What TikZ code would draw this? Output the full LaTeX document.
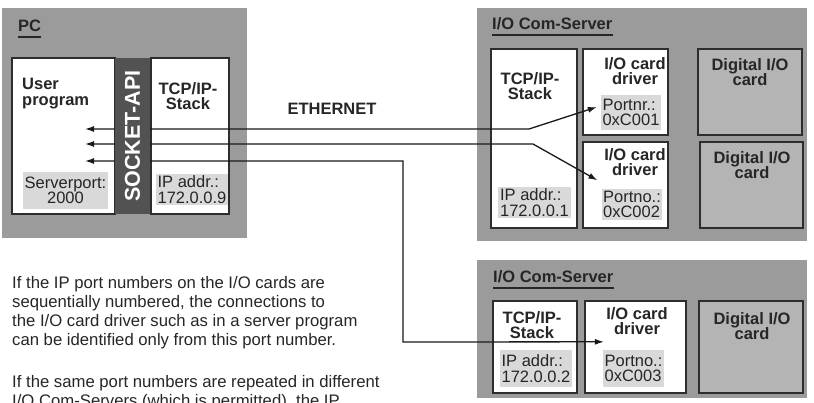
\documentclass[tikz,border=0pt]{standalone}
\usepackage{fontspec}
\setmainfont{Liberation Sans}
\usepackage{xcolor}
\usepackage{tikz}
\usetikzlibrary{arrows.meta, positioning, calc}
\definecolor{bggray}{RGB}{155,155,155}
\definecolor{cardgray}{RGB}{180,180,180}
\definecolor{addrgray}{RGB}{217,217,217}
\definecolor{sockgray}{RGB}{82,82,82}
\definecolor{edgegray}{RGB}{45,45,45}
\tikzset{
  housing/.style={rectangle, fill=bggray, draw=none, inner sep=0pt},
  module/.style={rectangle, fill=white, draw=edgegray, line width=1.2pt, inner sep=0pt},
  cardbox/.style={rectangle, fill=cardgray, draw=edgegray, line width=1.2pt, inner sep=0pt},
  addrbox/.style={rectangle, fill=addrgray, draw=none, inner sep=1.5pt, font=\fontsize{16.5}{15.5}\selectfont, text=black!85},
  boxlabel/.style={inner sep=0pt, font=\fontsize{16.5}{15.5}\selectfont\bfseries, text=black!85},
  title/.style={inner sep=0pt, font=\fontsize{16.5}{16}\selectfont\bfseries, text=black!85},
  para/.style={inner sep=0pt, anchor=north west, align=left, font=\fontsize{16.7}{19}\selectfont, text=black!85},
  link/.style={draw=black!90, line width=1.3pt, {Latex[length=9pt,width=6pt]}-{Latex[length=9pt,width=6pt]}}
}
\begin{document}
\begin{tikzpicture}[x=1pt, y=-1pt]
        \useasboundingbox (0,0) rectangle (814,402);

        % PC
        \node (pc) [housing, minimum width=245, minimum height=230] at (124.5,123) {};
        \node (pctitle) [title, anchor=south west] at (18,32) {PC};
        \node (userbox) [module, minimum width=103, minimum height=156] at (63.5,136) {};
        \node (pcstack) [module, minimum width=78, minimum height=156] at (190,136) {};
        \node (userlbl) [boxlabel, anchor=north west, align=left] at (22,78) {User\\program};
        \node (pcstacklbl) [boxlabel, anchor=north, align=center] at (188,82) {TCP/IP-\\Stack};
        \node (srvport) [addrbox, align=center, minimum width=85, minimum height=37] at (65.5,190.5) {Serverport:\\2000};
        \node (pcip) [addrbox, align=left, minimum width=72, minimum height=29] at (192,189.5) {IP addr.:\\172.0.0.9};

        % I/O Com-Server 1
        \node (srvA) [housing, minimum width=330, minimum height=233] at (642,124.5) {};
        \node (srvAtitle) [title, anchor=south west] at (492,30) {I/O Com-Server};
        \node (stackA) [module, minimum width=86, minimum height=179] at (534,138.5) {};
        \node (drvA) [module, minimum width=85, minimum height=86] at (625.5,92) {};
        \node (drvB) [module, minimum width=85, minimum height=86] at (625.5,185) {};
        \node (cardA) [cardbox, minimum width=104, minimum height=86] at (750,92) {};
        \node (cardB) [cardbox, minimum width=103, minimum height=86] at (751.5,185) {};
        \node (stackAlbl) [boxlabel, anchor=north, align=center] at (530,72) {TCP/IP-\\Stack};
        \node (drvAlbl) [boxlabel, anchor=north, align=center] at (635,57) {I/O card\\driver};
        \node (drvBlbl) [boxlabel, anchor=north, align=center] at (635,148) {I/O card\\driver};
        \node (cardAlbl) [boxlabel, anchor=north, align=center] at (750,58) {Digital I/O\\card};
        \node (cardBlbl) [boxlabel, anchor=north, align=center] at (752,151) {Digital I/O\\card};
        \node (ipA) [addrbox, align=left, minimum width=73, minimum height=29] at (534.5,202.5) {IP addr.:\\172.0.0.1};
        \node (portA) [addrbox, align=left, minimum width=58, minimum height=35] at (631,112.5) {Portnr.:\\0xC001};
        \node (portB) [addrbox, align=left, minimum width=60, minimum height=27] at (632,204.5) {Portno.:\\0xC002};

        % I/O Com-Server 2
        \node (srvB) [housing, minimum width=330, minimum height=138] at (642,329) {};
        \node (srvBtitle) [title, anchor=south west] at (493,283) {I/O Com-Server};
        \node (stackB) [module, minimum width=84, minimum height=92] at (535,347) {};
        \node (drvC) [module, minimum width=101, minimum height=92] at (635.5,347) {};
        \node (cardC) [cardbox, minimum width=104, minimum height=92] at (751,347) {};
        \node (stackBlbl) [boxlabel, anchor=north, align=center] at (532,311) {TCP/IP-\\Stack};
        \node (drvClbl) [boxlabel, anchor=north, align=center] at (637,307) {I/O card\\driver};
        \node (cardClbl) [boxlabel, anchor=north, align=center] at (752,312) {Digital I/O\\card};
        \node (ipB) [addrbox, align=left, minimum width=72, minimum height=37] at (536,368.5) {IP addr.:\\172.0.0.2};
        \node (portC) [addrbox, align=left, minimum width=59, minimum height=37] at (633.5,368.5) {Portno.:\\0xC003};

        % Titles underlined
        \foreach \t in {pctitle, srvAtitle, srvBtitle}
          \draw [line width=1.6pt, black!85] ($(\t.south west)+(0,5)$) -- ($(\t.south east)+(0,5)$);

        \node (eth) [title] at (332,109) {ETHERNET};

        % Notes
        \node (para1) [para] at (12,276) {If the IP port numbers on the I/O cards are\\sequentially numbered, the connections to\\the I/O card driver such as in a server program\\can be identified only from this port number.};
        \node (para2) [para, below=26pt of para1.south west, anchor=north west] {If the same port numbers are repeated in different\\I/O Com-Servers (which is permitted), the IP};

        % Paths
        \coordinate (pcA) at (85,129);
        \coordinate (pcB) at (85,144);
        \coordinate (pcC) at (85,161);
        \draw [link] (pcA) -- (529,129) -- ($(portA.west)+(-4,-5.5)$);
        \draw [link] (pcB) -- (533,144) -- ($(portB.north west)+(-4,-9)$);
        \draw [link] (pcC) -- (403,161) -- (403,342) -- ($(portC.north west)+(1,-8)$);

        % Socket bar on top of the links
        \node (socket) [rectangle, fill=sockgray, inner sep=0pt, minimum width=35, minimum height=156] at (132.5,136) {};
        \node (socklbl) [inner sep=0pt, rotate=90, text=white, font=\fontsize{21.5}{22}\selectfont\bfseries] at (socket.center) {SOCKET-API};
\end{tikzpicture}
\end{document}
